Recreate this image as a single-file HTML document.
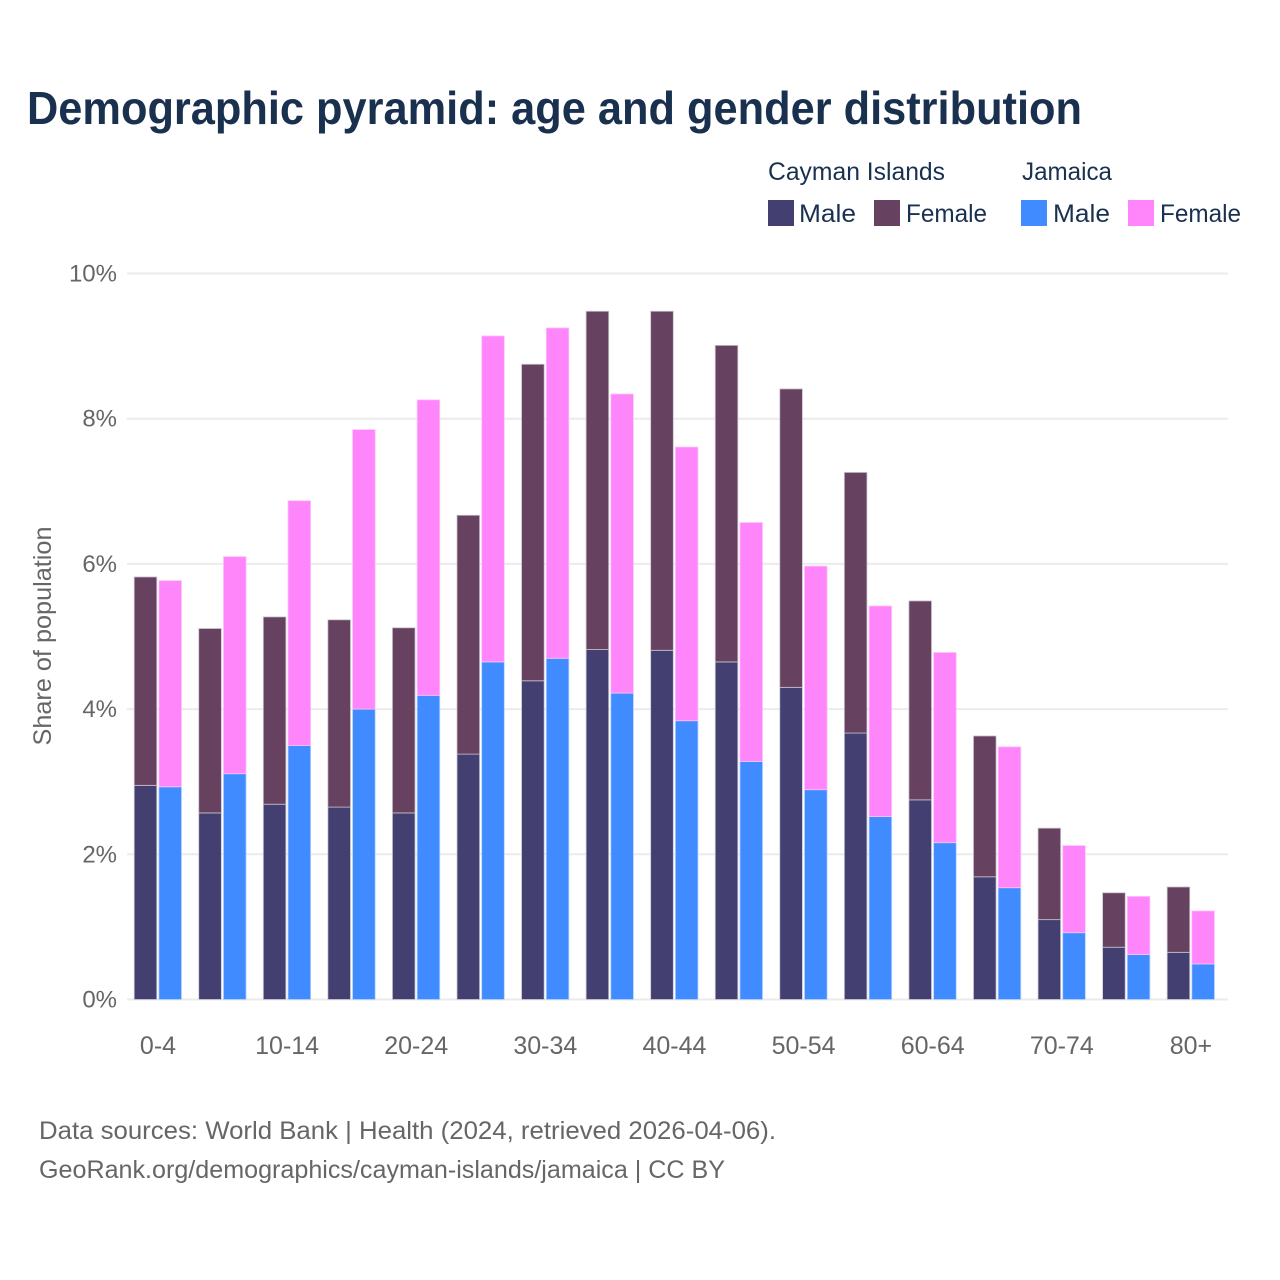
<!DOCTYPE html>
<html lang="en">
<head>
<meta charset="utf-8">
<title>Demographic pyramid: age and gender distribution</title>
<style>
html,body{margin:0;padding:0;background:#fff;}
svg{display:block;font-family:"Liberation Sans",sans-serif;}
</style>
</head>
<body>
<svg id="chart" xmlns="http://www.w3.org/2000/svg" width="1280" height="1280" viewBox="0 0 1280 1280">
  <rect x="0" y="0" width="1280" height="1280" fill="#ffffff"/>
  <text x="27" y="124" font-size="46" font-weight="700" fill="#19304f" textLength="1055" lengthAdjust="spacingAndGlyphs">Demographic pyramid: age and gender distribution</text>

  <g font-size="25" fill="#19304f">
    <text x="768" y="180" textLength="177" lengthAdjust="spacingAndGlyphs">Cayman Islands</text>
    <text x="1022" y="180" textLength="90" lengthAdjust="spacingAndGlyphs">Jamaica</text>
    <rect x="768" y="200" width="26" height="26" fill="#433f70"/>
    <text x="799" y="222" textLength="57" lengthAdjust="spacingAndGlyphs">Male</text>
    <rect x="874" y="200" width="26" height="26" fill="#674160"/>
    <text x="906" y="222" textLength="81" lengthAdjust="spacingAndGlyphs">Female</text>
    <rect x="1021" y="200" width="26" height="26" fill="#3f8bff"/>
    <text x="1053" y="222" textLength="57" lengthAdjust="spacingAndGlyphs">Male</text>
    <rect x="1128" y="200" width="26" height="26" fill="#ff85fb"/>
    <text x="1160" y="222" textLength="81" lengthAdjust="spacingAndGlyphs">Female</text>
  </g>

  <g id="grid"></g>
  <g id="bars"></g>
  <g id="yticks"></g>
  <g id="xticks"></g>

  <text transform="translate(51,636) rotate(-90)" text-anchor="middle" font-size="25" fill="#666666" textLength="219" lengthAdjust="spacingAndGlyphs">Share of population</text>

  <text x="39" y="1139" font-size="25" fill="#666666" textLength="737" lengthAdjust="spacingAndGlyphs">Data sources: World Bank | Health (2024, retrieved 2026-04-06).</text>
  <text x="39" y="1178" font-size="25" fill="#666666" textLength="686" lengthAdjust="spacingAndGlyphs">GeoRank.org/demographics/cayman-islands/jamaica | CC BY</text>
</svg>
<script>
var categories = ["0-4","5-9","10-14","15-19","20-24","25-29","30-34","35-39","40-44","45-49","50-54","55-59","60-64","65-69","70-74","75-79","80+"];
var caymanMale = [2.95,2.57,2.69,2.65,2.57,3.38,4.39,4.82,4.81,4.65,4.30,3.67,2.75,1.69,1.10,0.72,0.65];
var caymanFemale = [2.87,2.54,2.58,2.58,2.55,3.29,4.36,4.66,4.67,4.36,4.11,3.59,2.74,1.94,1.26,0.75,0.90];
var jamaicaMale = [2.93,3.11,3.50,4.00,4.19,4.65,4.70,4.22,3.84,3.28,2.89,2.52,2.16,1.54,0.92,0.62,0.49];
var jamaicaFemale = [2.84,2.99,3.37,3.85,4.07,4.49,4.55,4.12,3.77,3.29,3.08,2.90,2.62,1.94,1.20,0.80,0.73];
var yTicks = [0,2,4,6,8,10];

var NS = "http://www.w3.org/2000/svg";
function yScale(v){ return 999.5 - v * 72.6; }
function xBand(i){ return 134.2 + i * 64.56; }
var barWidth = 22.6;
var barGap = 24.7;

var grid = document.getElementById("grid");
var yG = document.getElementById("yticks");
yTicks.forEach(function(t){
  var line = document.createElementNS(NS, "line");
  
  
  line.setAttribute("x1", 127);
  line.setAttribute("x2", 1228);
  line.setAttribute("y1", yScale(t));
  line.setAttribute("y2", yScale(t));
  line.setAttribute("stroke", "#ebebeb");
  line.setAttribute("stroke-width", 2);
  grid.appendChild(line);
  var label = document.createElementNS(NS, "text");
  
  
  label.setAttribute("x", 117);
  label.setAttribute("y", yScale(t) + 8);
  label.setAttribute("text-anchor", "end");
  label.setAttribute("font-size", 24);
  label.setAttribute("fill", "#666666");
  label.textContent = t + "%";
  yG.appendChild(label);
});

function addBar(parent, x, bottom, value, fill, stroke){
  var r = document.createElementNS(NS, "rect");
  
  
  r.setAttribute("x", x);
  r.setAttribute("y", yScale(bottom + value));
  r.setAttribute("width", barWidth);
  r.setAttribute("height", yScale(bottom) - yScale(bottom + value));
  r.setAttribute("fill", fill);
  r.setAttribute("stroke", stroke);
  r.setAttribute("stroke-width", 0.8);
  parent.appendChild(r);
}

var bars = document.getElementById("bars");
var xG = document.getElementById("xticks");
categories.forEach(function(c, i){
  var x = xBand(i);
  addBar(bars, x, 0, caymanMale[i], "#433f70", "#c9c9d4");
  addBar(bars, x, caymanMale[i], caymanFemale[i], "#674160", "#c9c4cc");
  addBar(bars, x + barGap, 0, jamaicaMale[i], "#3f8bff", "#b5d2ff");
  addBar(bars, x + barGap, jamaicaMale[i], jamaicaFemale[i], "#ff85fb", "#ffc4fd");
  if (i % 2 === 0) {
    var label = document.createElementNS(NS, "text");
    
    
    label.setAttribute("x", x + barGap - 0.9);
    label.setAttribute("y", 1054);
    label.setAttribute("text-anchor", "middle");
    label.setAttribute("font-size", 25);
    label.setAttribute("fill", "#666666");
    label.textContent = c;
    xG.appendChild(label);
  }
});
</script>
</body>
</html>
